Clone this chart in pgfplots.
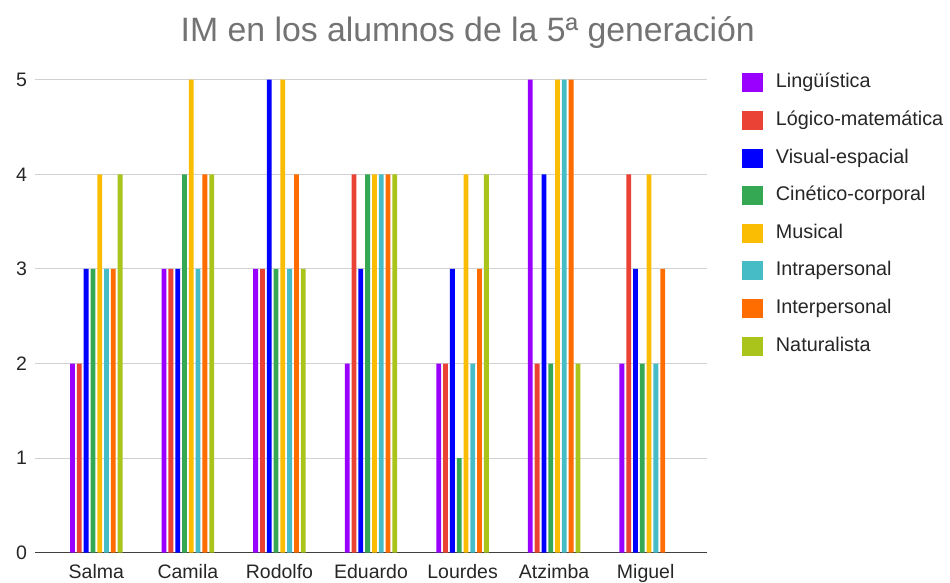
\documentclass[border=0pt]{standalone}
\usepackage{fontspec}
\setmainfont{Liberation Sans}
\usepackage{pgfplots}
\pgfplotsset{compat=1.18}

\definecolor{cLing}{HTML}{9900FF}
\definecolor{cLog}{HTML}{EA4335}
\definecolor{cVis}{HTML}{0000FF}
\definecolor{cCin}{HTML}{34A853}
\definecolor{cMus}{HTML}{FBBC04}
\definecolor{cIntra}{HTML}{46BDC6}
\definecolor{cInter}{HTML}{FF6D01}
\definecolor{cNat}{HTML}{ABC41C}

\begin{document}
\begin{tikzpicture}
\useasboundingbox (-35pt,-29.3pt) rectangle (915pt,552.7pt);
\begin{axis}[
    at={(0pt,0pt)}, anchor=south west,
    scale only axis, width=672pt, height=473pt,
    ybar=2pt, bar width=4.8pt,
    xmin=-0.67, xmax=6.67, ymin=0, ymax=5,
    xtick={0,...,6},
    xticklabels={Salma,Camila,Rodolfo,Eduardo,Lourdes,Atzimba,Miguel},
    ytick={0,...,5},
    axis lines=left, axis line style={-},
    y axis line style={draw=none},
    x axis line style={draw=black!75, line width=1.2pt},
    major tick length=0pt,
    ymajorgrids, grid style={draw=black!18, line width=1pt},
    tick label style={font=\fontsize{19.5}{22}\selectfont, text=black!85},
    /pgf/number format/assume math mode=true,
    xticklabel style={yshift=-8pt},
    yticklabel style={xshift=-4.5pt},
    title={IM en los alumnos de la 5ª generación},
    title style={at={(0.644,1.086)}, anchor=center,
        font=\fontsize{33.8}{40}\selectfont, text=black!55},
    legend cell align=left,
    legend style={at={(1.052,1.0135)}, anchor=north west,
        draw=none, fill=none, inner sep=0pt, outer sep=0pt,
        row sep=18.6pt, font=\fontsize{19.8}{22}\selectfont, text=black!85,
        nodes={inner sep=0pt, text height=14pt, text depth=4pt},
        /tikz/every odd column/.append style={column sep=13pt}},
    every axis plot post/.append style={draw=none,
        legend image code/.code={\fill[##1,draw=none] (0pt,-9.5pt) rectangle (21pt,9.5pt);}},
]
% Lingüística
\addplot[fill=cLing] coordinates {(0,2) (1,3) (2,3) (3,2) (4,2) (5,5) (6,2)};
\addlegendentry{Lingüística}
% Lógico-matemática
\addplot[fill=cLog] coordinates {(0,2) (1,3) (2,3) (3,4) (4,2) (5,2) (6,4)};
\addlegendentry{Lógico-matemática}
% Visual-espacial
\addplot[fill=cVis] coordinates {(0,3) (1,3) (2,5) (3,3) (4,3) (5,4) (6,3)};
\addlegendentry{Visual-espacial}
% Cinético-corporal
\addplot[fill=cCin] coordinates {(0,3) (1,4) (2,3) (3,4) (4,1) (5,2) (6,2)};
\addlegendentry{Cinético-corporal}
% Musical
\addplot[fill=cMus] coordinates {(0,4) (1,5) (2,5) (3,4) (4,4) (5,5) (6,4)};
\addlegendentry{Musical}
% Intrapersonal
\addplot[fill=cIntra] coordinates {(0,3) (1,3) (2,3) (3,4) (4,2) (5,5) (6,2)};
\addlegendentry{Intrapersonal}
% Interpersonal
\addplot[fill=cInter] coordinates {(0,3) (1,4) (2,4) (3,4) (4,3) (5,5) (6,3)};
\addlegendentry{Interpersonal}
% Naturalista (Miguel has no bar)
\addplot[fill=cNat] coordinates {(0,4) (1,4) (2,3) (3,4) (4,4) (5,2)};
\addlegendentry{Naturalista}
\end{axis}
\end{tikzpicture}
\end{document}
